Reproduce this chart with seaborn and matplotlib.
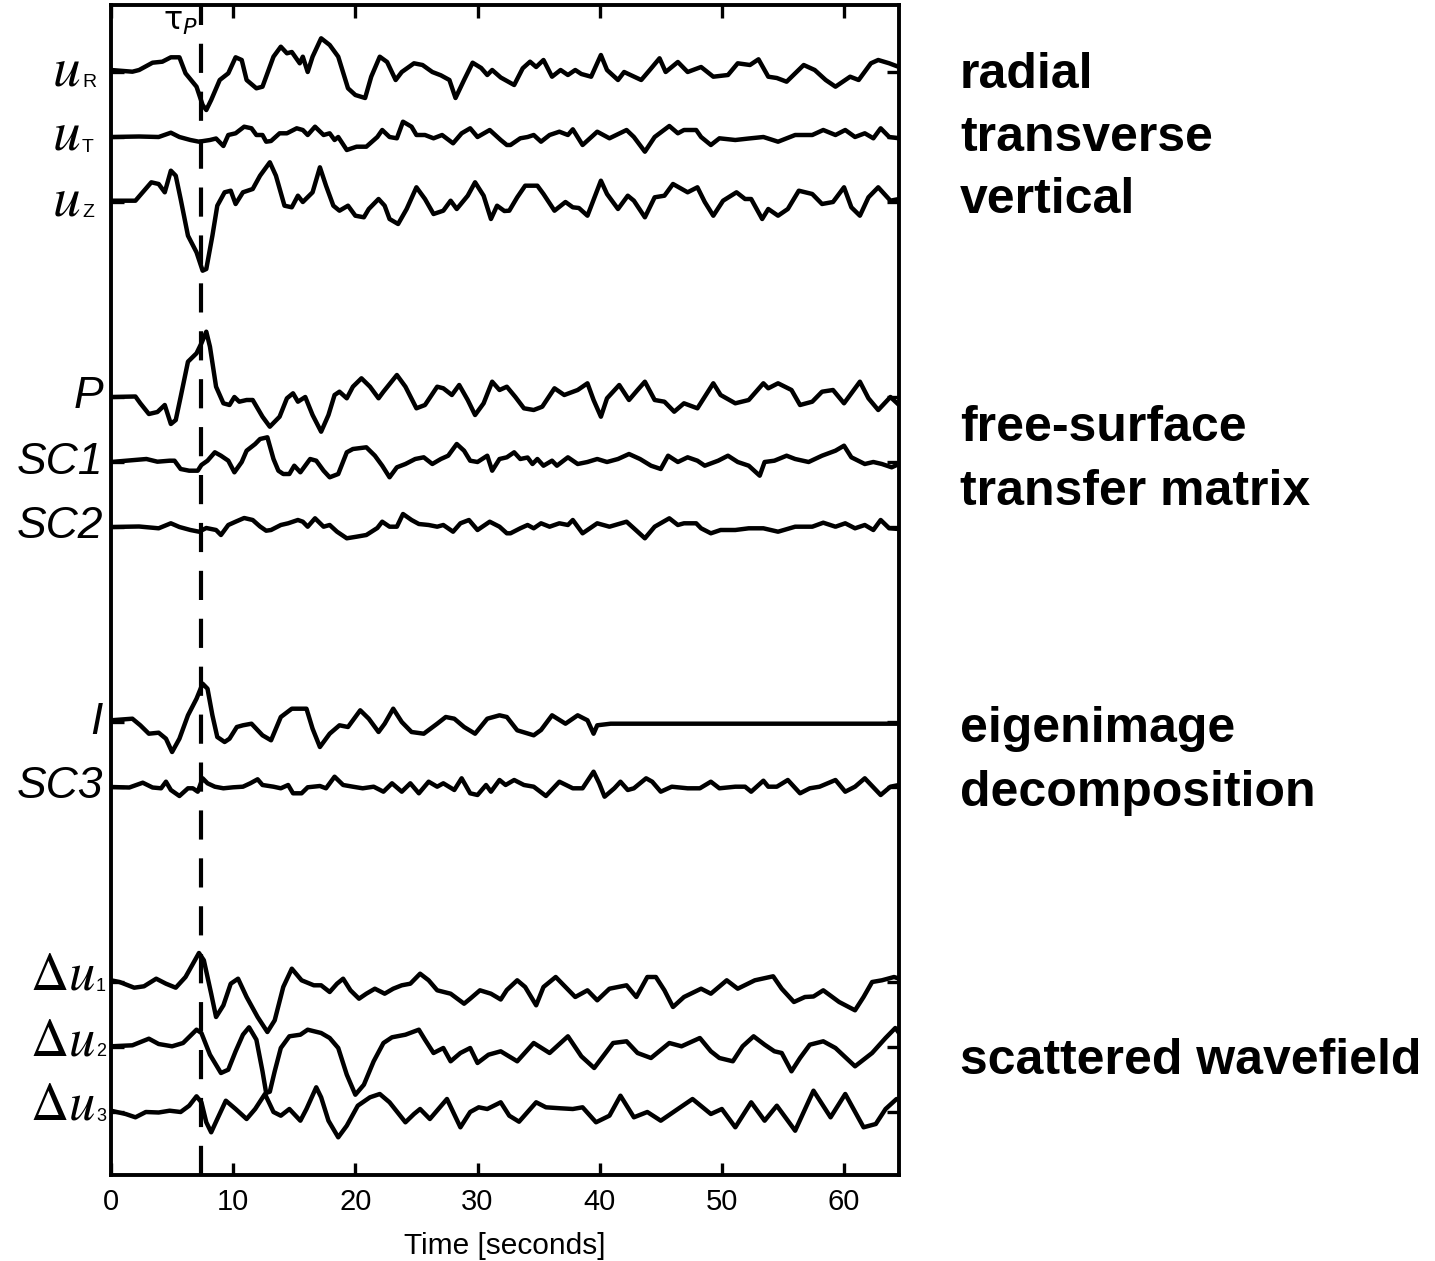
import numpy as np
import pandas as pd
import matplotlib
matplotlib.use("Agg")
import matplotlib.pyplot as plt
import seaborn as sns
from matplotlib import transforms

# traces: time [s] and deflection (pixels, up = positive)
uR_t = [0, 1.75, 2.3, 3.4, 4.2, 4.9, 5.6, 6.1, 7.0, 7.5, 7.8, 8.2, 8.9, 9.6, 10.2, 10.7, 11.1, 11.9, 12.4, 13.3,
        13.9, 14.4, 14.8, 15.45, 15.7, 16.1, 16.5, 17.2, 17.9, 18.6, 19.4, 20.0, 20.8, 21.3, 22.0, 22.6, 23.3, 23.8,
        24.8, 25.5, 26.3, 27.0, 27.7, 28.2, 28.9, 29.6, 30.3, 30.8, 31.2, 31.9, 33.0, 33.7, 34.3, 34.8, 35.4, 36.1,
        36.8, 37.4, 38.0, 38.5, 39.3, 40.1, 40.6, 41.5, 42.0, 43.4, 44.1, 44.9, 45.4, 46.4, 47.2, 48.3, 49.3, 50.5,
        51.3, 52.3, 53.0, 53.8, 54.5, 55.3, 56.7, 57.6, 58.5, 59.3, 60.5, 61.2, 62.2, 62.8, 63.7, 64.5]
uR_v = [2, 0.3, 2, 9.3, 10.3, 14.7, 14.7, -1.3, -14.7, -33, -38, -28, -8, -1.3, 14.7, 12, -8, -16.3, -14.7, 15.3,
        25.3, 18.7, 20, 8.7, 15.3, 0, 15.3, 33.7, 27, 15.3, -16.3, -23, -26, -4.7, 15.3, 10, -8, 0,
        8.7, 7, 0, -3.3, -8, -26, -8, 9.3, 4, -3, 2, -5.5, -13, 3.7, 10.3, 5, 12, -4.7,
        2, -3, 2, -2, -4.7, 17, 2, -8, 0, -8, 2, 13.7, 0, 10, 0, 5, -4.7, -3,
        8.7, 7, 12.7, -4.7, -6, -9.7, 7, 2, -8, -14.7, -4.7, -8, 8.7, 12, 8.7, 5]

uT_t = [0, 2.3, 3.9, 4.9, 5.6, 6.5, 7.2, 8.1, 8.6, 9.2, 9.6, 10.2, 10.9, 11.5, 11.9, 12.4, 12.7, 13.1, 13.8, 14.4,
        15.2, 15.7, 16.1, 16.7, 17.4, 17.9, 18.3, 18.6, 19.3, 20.1, 20.9, 21.8, 22.2, 22.8, 23.4, 23.9, 24.6, 25.0,
        25.7, 26.4, 27.1, 28.0, 28.7, 29.4, 30.0, 31.0, 31.9, 32.4, 32.7, 33.5, 34.1, 34.6, 35.2, 35.9, 36.7, 37.4,
        37.8, 38.6, 39.8, 40.8, 42.2, 42.8, 43.7, 44.5, 45.7, 46.4, 46.9, 47.9, 48.3, 49.1, 49.8, 51.1, 52.2, 53.4,
        54.6, 56.0, 57.4, 58.3, 59.3, 60.1, 60.9, 61.7, 62.4, 63.0, 63.7, 64.5]
uT_v = [0, 0.5, 0, 4.3, 0, -3, -4.7, -3, -1.5, -9, 2, 3.7, 10.3, 8.7, 2, 2, -4.7, -4, 3.7, 3.7,
        8.7, 7, 2, 10.3, 2, 3.7, -3, 0, -13, -9.7, -9.7, 0, 7, 0, -1.3, 15.3, 10.3, 2,
        2, -1.3, 2, -6.3, 3.7, 8.7, 0, 7, -3, -8, -8, -1.3, 0, 2, -4.7, 2, 5.3, 2,
        7.7, -8, 5.3, -1.3, 7, 0, -14.7, 0, 11, 3.7, 7, 7, 0, -8, -1.3, -3, -1.5, 0,
        -4.7, 2, 2, 7, 2, 7, 0, 3.7, -1.3, 8.7, 0, -1.3]

uZ_t = [0, 2.0, 3.3, 3.9, 4.4, 4.9, 5.3, 5.7, 6.3, 7.0, 7.5, 7.8, 8.3, 8.7, 9.3, 9.8, 10.2, 10.8, 11.6, 12.2,
        13.0, 13.5, 14.2, 14.8, 15.3, 15.7, 16.5, 17.1, 17.6, 18.2, 18.7, 19.4, 20.0, 20.7, 21.1, 21.9, 22.4, 22.8,
        23.5, 24.2, 25.0, 25.7, 26.4, 27.2, 27.8, 28.3, 29.2, 29.8, 30.5, 31.1, 31.6, 32.2, 32.6, 33.25, 33.9, 34.9,
        35.4, 36.3, 37.2, 37.8, 38.3, 39.0, 40.1, 40.6, 41.5, 42.3, 42.8, 43.7, 44.5, 45.3, 46.0, 47.2, 48.0, 48.6,
        49.3, 50.1, 51.2, 51.9, 52.4, 53.3, 53.8, 54.6, 55.4, 56.3, 57.4, 58.2, 59.1, 60.0, 60.6, 61.3, 62.0, 62.8,
        63.8, 64.5]
uZ_v = [1.3, 1.3, 19.7, 18, 9.7, 31.3, 26.3, 3, -33.7, -50.3, -68.7, -67, -33.7, -3.7, 9.7, 11.3, -2, 9.7, 13, 26.3,
        39.7, 26.3, -3.7, -5.3, 6.3, 0, 9.7, 34.7, 16.3, -3.7, -8.7, -3.7, -13.7, -15.3, -7, 3, -3.7, -17,
        -22, -7, 14.7, 3, -12, -8.7, 1.3, -7, 6.3, 19.7, 6.3, -17, -3.7, -9, -8.7, 4.7, 16.3, 16.3,
        8, -8.7, 0, -5.3, -6, -13.7, 21.3, 8, -7, 6.3, 1.3, -15.3, 4.7, 6.3, 18, 9.7, 14.7, 0,
        -13.7, 1.3, 9.7, 3, 3, -17, -7, -13.7, -7, 11.3, 8, -2, 0, 14.7, -5.3, -13.7, 4.7, 14.7,
        1.3, 3]

P_t = [0, 2.0, 2.4, 3.1, 3.8, 4.4, 4.9, 5.3, 5.7, 6.3, 7.0, 7.4, 7.8, 8.1, 8.6, 9.2, 9.7, 10.1, 10.5, 11.1,
       11.6, 12.4, 13.0, 13.8, 14.4, 14.9, 15.3, 15.9, 16.5, 17.2, 17.8, 18.3, 18.7, 19.3, 19.8, 20.5, 21.2, 21.9,
       22.3, 23.4, 24.1, 25.0, 25.7, 26.7, 27.2, 27.9, 28.5, 29.2, 29.8, 30.5, 31.2, 31.8, 32.4, 33.1, 33.8, 34.6,
       35.3, 36.3, 37.1, 38.2, 39.0, 39.5, 40.1, 40.6, 41.6, 42.4, 43.1, 43.7, 44.5, 45.3, 46.1, 46.9, 48.0, 49.3,
       49.9, 51.1, 52.2, 53.4, 53.8, 54.6, 55.7, 56.4, 57.4, 58.2, 59.1, 60.0, 61.3, 62.0, 62.8, 63.8, 64.5]
P_v = [0, 0.5, -6.3, -17, -15, -8, -27, -23, 0, 35.3, 43.7, 53.7, 65.3, 50.3, 10.3, -6.3, -8, 0, -4.7, -3,
       -3, -19.7, -29.7, -19.7, -1.3, 3.7, -4.7, 0, -18, -34.7, -18, 2, 5.3, -1.3, 10.3, 18.7, 10.3, -1.3,
       5.3, 22, 10.3, -11.3, -8, 10.3, 8.7, 2, 12, -3, -18, -6.3, 15.3, 7, 10.3, 0, -11.3, -13,
       -9.7, 8.7, 2, 7, 13.7, -3, -19.7, -1.3, 12, -3, 7, 15.3, -3, -4.7, -14.7, -6.3, -11.3, 13.7,
       2, -6.3, -3, 13.7, 8.7, 13.7, 7, -8, -4.7, 5.3, 7, -6.3, 15.3, -1.3, -13, 0, -8]

SC1_t = [0, 2.9, 3.8, 4.8, 5.2, 5.7, 6.4, 7.1, 7.4, 7.9, 8.5, 9.0, 9.6, 10.1, 10.7, 11.1, 11.8, 12.2, 12.8, 13.3,
         13.7, 14.1, 14.6, 15.0, 15.5, 16.3, 16.8, 17.4, 17.9, 18.6, 19.3, 19.8, 20.9, 21.6, 22.2, 22.8, 23.4, 24.1,
         24.9, 25.6, 26.3, 27.0, 27.6, 28.3, 28.9, 29.4, 30.0, 30.8, 31.2, 31.8, 32.4, 33.0, 33.5, 34.1, 34.5, 34.9,
         35.4, 36.1, 36.5, 37.4, 38.2, 39.0, 39.8, 40.6, 41.5, 42.4, 43.3, 44.2, 45.0, 45.6, 46.4, 47.2, 48.0, 48.6,
         49.7, 50.5, 51.3, 52.2, 53.1, 53.5, 54.3, 55.3, 56.0, 57.1, 58.2, 59.3, 60.0, 60.6, 61.7, 62.4, 63.1, 63.9,
         64.5]
SC1_v = [0, 3, 0.3, 1.3, 1.3, -7, -8.7, -8.7, -3, 1.3, 9.7, 6.3, 1.3, -10.3, 0, 11.3, 18, 23, 24.7, 3,
         -8.7, -12, -12, -3.7, -10.3, 3, 1.3, -8.7, -15.3, -12, 9.7, 13, 14.7, 6.3, -3.7, -15.3, -5.3, -2,
         3, 4.7, -2, 3, 6.3, 18, 11.3, 1.3, 0, 6.3, -8.7, 3, 4.7, 9.7, 3, 4.5, -2, 3,
         -3.7, 1.3, -3.7, 4.7, -2, 0, 3, 0, 3, 8, 3, -3.7, -7, 6.3, 0, 4.7, 1.3, -3.7,
         1.3, 6.3, 0, -3.7, -13.7, 0, 1.3, 6.3, 3, 0, 6.3, 11.3, 16.3, 4.7, -2, 0, -2, -5.3,
         -2]

SC2_t = [0, 2.3, 3.9, 4.9, 5.6, 6.5, 7.2, 7.8, 8.6, 9.0, 9.6, 10.2, 10.9, 11.6, 12.2, 12.7, 13.1, 13.9, 14.5, 15.3,
         15.7, 16.1, 16.7, 17.4, 17.9, 18.5, 19.3, 20.1, 20.9, 21.8, 22.2, 22.8, 23.4, 23.9, 24.6, 25.2, 26.0, 26.7,
         27.2, 28.0, 28.6, 29.3, 30.0, 31.0, 31.8, 32.4, 32.7, 33.5, 34.1, 34.6, 35.2, 35.9, 36.7, 37.4, 37.8, 38.6,
         39.8, 40.8, 42.2, 42.8, 43.7, 44.5, 45.7, 46.4, 46.9, 47.9, 48.3, 49.1, 49.9, 51.1, 52.2, 53.4, 54.6, 56.0,
         57.4, 58.3, 59.3, 60.1, 60.9, 61.7, 62.4, 63.0, 63.7, 64.5]
SC2_v = [0, 0.5, -1.3, 3.7, 0, -3, -4.7, -1, -3, -8, 2, 5.3, 9, 7, 0.5, -3.7, -3, 2, 3.7, 7,
         5.3, 0.3, 8.7, 0.3, 2, -4.7, -11.3, -9.7, -8, -1, 5.3, 0.3, 0.3, 13, 7, 3, 2, 0.3,
         2, -4.7, 3.7, 7, -3, 5.3, 0.3, -6.3, -6.3, -1.3, 2, -1.3, 3.7, 0.3, 3.7, 2, 7, -6.3,
         3.7, 0.3, 5.3, -1.3, -11.3, 0.3, 8.7, 2, 3.7, 3.7, -1.3, -6.3, -3, -3, -1.3, -1.3, -4.7, 0.3,
         0.3, 4.3, 0.3, 3.7, -1.3, 2, -3, 7, -1.3, -2]

I_t = [0, 1.75, 2.4, 3.1, 3.9, 4.5, 5.0, 5.6, 6.3, 7.0, 7.5, 7.9, 8.3, 8.7, 9.3, 9.7, 10.3, 10.8, 11.5, 12.4,
       13.1, 13.9, 14.8, 16.0, 16.5, 17.1, 17.9, 18.7, 19.4, 20.4, 21.1, 21.9, 22.4, 23.1, 23.8, 24.6, 25.6, 26.7,
       27.4, 28.1, 28.9, 29.8, 30.8, 31.8, 32.4, 33.25, 34.6, 35.2, 36.1, 37.2, 38.2, 39.0, 39.5, 39.8, 40.9, 42.8,
       64.5]
I_v = [1.7, 3.3, -3.3, -11.7, -10.7, -16.7, -30, -16.7, 6.7, 23.3, 38.3, 33.3, 6.7, -15, -20, -16.7, -5, -3.3, -1.7, -13.3,
       -18.3, 5, 13.3, 13.3, -6.7, -25, -11.7, -3.3, -5, 11.7, 3.3, -10, -1.7, 13.3, 0, -10, -11.7, -1.7,
       5, 3.3, -5, -11.7, 3.3, 6.7, 5, -8.3, -13.3, -8, 6.7, -1.7, 6.7, 1.7, -11.7, -3.3, -1.7, -1.7,
       -1.7]

SC3_t = [0, 1.5, 2.6, 3.4, 4.1, 4.5, 4.9, 5.6, 6.3, 6.7, 7.1, 7.5, 7.9, 8.5, 9.2, 10.0, 10.8, 11.4, 12.0, 12.4,
         13.3, 13.9, 14.5, 14.9, 15.6, 16.1, 17.1, 17.6, 18.3, 19.0, 19.8, 20.6, 21.5, 22.3, 23.0, 23.8, 24.5, 25.2,
         26.0, 26.7, 27.2, 28.1, 28.7, 29.4, 30.0, 30.7, 31.1, 31.8, 32.3, 33.0, 33.8, 34.6, 35.6, 36.7, 37.8, 38.6,
         39.5, 39.96, 40.4, 41.2, 41.7, 42.3, 42.8, 43.8, 44.3, 45.0, 45.9, 47.2, 48.2, 49.1, 49.8, 51.1, 51.9, 52.4,
         53.4, 53.8, 54.5, 55.4, 56.4, 57.2, 58.0, 59.3, 60.1, 60.9, 61.7, 63.0, 63.8, 64.5]
SC3_v = [0, -0.5, 4.3, -0.5, -1.3, 5.3, -3, -9, -1.3, -1.3, -4.7, 8.7, 3.7, 0.3, -1.3, -0.3, 0.3, 3.7, 7.7, 2,
         0.3, -1.3, 2, -6.3, -6.3, -0.3, 1, -1.3, 10.3, 2, 0.3, -1.3, 0.3, -4.7, 3.7, -4.7, 3.7, -6.3,
         5.3, 0.3, 3.7, -3, 8.7, -6.3, -8, 2, -4.7, 7, 2, 7, 2, 0.3, -9, 5.3, -1.3, -1.3,
         15.3, 3.7, -9.7, -1.3, 5.3, -3, -1.3, 8.7, 5.3, -4.7, 0.3, -1.3, -1.3, 5.3, -1.3, 0.3, 0.3, -4.7,
         6.3, 0.3, 0.3, 7, -6.3, -1.3, 0.3, 7, -4.7, 0.3, 8.7, -8, 0.3, 2]

du1_t = [0, 0.7, 1.9, 2.7, 3.7, 4.5, 5.3, 6.1, 7.2, 7.6, 8.2, 8.6, 9.2, 9.8, 10.4, 11.1, 12.0, 12.8, 13.4, 14.1,
         14.8, 15.6, 16.6, 17.2, 17.9, 18.5, 19.0, 19.6, 20.3, 20.9, 21.6, 22.4, 23.1, 23.8, 24.5, 25.3, 26.0, 26.7,
         27.8, 28.9, 29.4, 30.2, 31.1, 31.9, 32.4, 33.25, 33.9, 34.8, 35.4, 36.4, 37.2, 38.0, 39.0, 39.8, 40.8, 42.2,
         43.0, 43.9, 44.6, 45.3, 46.0, 46.9, 48.3, 49.1, 50.4, 51.3, 52.7, 54.2, 54.9, 55.9, 56.8, 57.5, 58.3, 59.6,
         60.9, 61.6, 62.3, 63.1, 64.1, 64.5]
du1_v = [1.7, 0, -5.7, -4.3, 3.3, -1.7, -5.7, 5, 29, 21.7, -11.7, -35, -23.3, -1.7, 3.3, -15, -35, -50, -38.3, -5,
         13.3, 1.7, -3.3, -3.3, -10, -1.7, 3.3, -8.3, -16.7, -11.7, -6.7, -11.7, -6.7, -3.3, -1.7, 8.3, 1.7, -8.3,
         -11.7, -21.7, -16.7, -8.3, -11.7, -17.5, -8, 1.7, -5, -23.3, -5, 5, -5, -15, -8.3, -18.3, -6.7, -3.3,
         -15, 5, 5, -8.3, -25, -15, -6.7, -11.7, 1.7, -6.7, 1.7, 5.7, -6.7, -20, -15, -14.5, -8.3, -20,
         -28.3, -15, 0, 1.7, 5, 3.3]

du2_t = [0, 1.75, 3.1, 3.9, 5.0, 5.9, 7.0, 7.4, 8.1, 9.0, 9.6, 10.2, 10.8, 11.3, 11.9, 12.4, 12.7, 13.0, 13.4, 13.9,
         14.6, 15.5, 16.1, 17.2, 17.9, 18.6, 19.3, 20.0, 20.7, 21.5, 22.3, 23.0, 24.1, 25.2, 25.7, 26.4, 27.2, 27.8,
         28.6, 29.4, 30.0, 30.9, 31.9, 33.25, 34.6, 35.9, 37.4, 38.5, 39.55, 41.1, 42.2, 43.1, 44.2, 45.7, 46.7, 48.2,
         49.1, 49.8, 50.9, 51.7, 52.6, 53.5, 54.3, 54.9, 55.7, 56.4, 57.2, 58.3, 59.3, 60.9, 62.3, 63.4, 64.2, 64.5]
du2_v = [0.7, 1.7, 8.3, 3, 0.7, 4, 17.3, 14, -7.7, -26, -22.7, -4.3, 12.3, 19.7, 7.3, -24.3, -46, -44.7, -24.3, -1,
         10.7, 12.3, 17.3, 14, 9, -1, -27.7, -47.7, -37.7, -14.3, 4, 9.7, 12.3, 17.3, 7.3, -6, -1, -14.3,
         -6, -1, -16, -7.7, -4.3, -14.3, 4, -6, 10.7, -9.3, -21, 4, 5.7, -6, -11, 4, 0.7, 9,
         -4.3, -11, -14.3, 0.7, 10.7, 2.3, -4.3, -6, -24.3, -11, 2.3, 5.7, -1, -19.3, -6, 9, 19, 14]

du3_t = [0, 1.2, 2.0, 2.85, 3.9, 4.8, 5.7, 6.4, 7.0, 7.4, 7.8, 8.2, 8.7, 9.4, 10.2, 11.1, 11.8, 12.6, 13.3, 13.9,
         14.6, 15.5, 16.0, 16.8, 17.2, 17.8, 18.6, 19.3, 20.2, 21.2, 22.0, 22.8, 24.1, 24.8, 25.3, 26.1, 27.5, 28.6,
         29.4, 30.1, 30.8, 31.9, 32.6, 33.4, 34.8, 35.6, 36.8, 37.8, 38.6, 39.7, 40.8, 41.7, 42.8, 43.9, 45.0, 46.4,
         47.6, 49.1, 50.0, 51.1, 52.4, 53.5, 54.5, 56.0, 57.5, 58.9, 60.1, 61.6, 62.6, 63.4, 64.3]
du3_v = [1.3, -2, -5.3, 0, -0.5, 1.3, 0, 6.3, 15.7, 9.7, -10.3, -20.3, -7, 11.3, 3, -7, 3, 18, 0, -3.7,
         3, -8.7, 3, 24.7, 14.7, -8.7, -25.3, -13.7, 6.3, 14.7, 18, 9.7, -10.3, -2, 3, -7, 13, -15.3,
         0, 4.7, 3, 9.7, -3.7, -9.7, 9.7, 4.7, 3.7, 3, 4.7, -10.3, -3.7, 16.3, -5.3, 0, -8.7, 3,
         13, -2, 3, -15.3, 9.7, -8.7, 6.3, -18.7, 21.3, -5.3, 18, -15.3, -12, 3, 13]

trace_names = ["uR", "uT", "uZ", "P", "SC1", "SC2", "I", "SC3", "du1", "du2", "du3"]
trace_slot = [1, 2, 3, 6, 7, 8, 11, 12, 15, 16, 17]   # baseline rows, counted from the top
trace_t = [uR_t, uT_t, uZ_t, P_t, SC1_t, SC2_t, I_t, SC3_t, du1_t, du2_t, du3_t]
trace_v = [uR_v, uT_v, uZ_v, P_v, SC1_v, SC2_v, I_v, SC3_v, du1_v, du2_v, du3_v]

group_labels = ["radial", "transverse", "vertical", "free-surface", "transfer matrix",
                "eigenimage", "decomposition", "scattered wavefield"]
group_baseline_px = [88, 151, 213, 441, 505, 742, 806, 1074]

tau_p = 7.37
row_px = 65.0     # pixel spacing between neighbouring rows

rows = []
for name, slot, t, v in zip(trace_names, trace_slot, trace_t, trace_v):
    for ti, vi in zip(t, v):
        rows.append({"trace": name, "time": ti, "y": -slot + vi / row_px})
df = pd.DataFrame(rows)

sns.set_theme(style="ticks")
plt.rcParams["font.family"] = ["Liberation Sans", "DejaVu Sans"]
plt.rcParams["text.color"] = "black"
plt.rcParams["axes.labelcolor"] = "black"
plt.rcParams["xtick.color"] = "black"
plt.rcParams["ytick.color"] = "black"

W, H = 1435, 1261
fig = plt.figure(figsize=(W / 100, H / 100), dpi=100)
ax = fig.add_axes([111 / W, 1 - 1175 / H, (899 - 111) / W, (1175 - 5) / H])

sns.lineplot(data=df, x="time", y="y", units="trace", estimator=None, color="black",
             linewidth=3.2, ax=ax, legend=False)
ax.axvline(tau_p, color="black", linewidth=3.0, linestyle=(0, (7, 4.5)))

ax.set_xlim(0, 64.5)
ax.set_ylim(-(1175 - 7) / row_px, -(5 - 7) / row_px)
ax.set_xticks(range(0, 61, 10))
ax.set_yticks([-s for s in trace_slot])
ax.set_yticklabels([])
for s in ax.spines.values():
    s.set_linewidth(2.8)
    s.set_color("black")
ax.tick_params(axis="both", direction="in", length=9, width=2.4, color="black",
               labelcolor="black", top=True, right=True)
ax.tick_params(axis="x", labelsize=21, pad=9)
ax.set_xlabel("Time [seconds]", fontsize=21.5, labelpad=12, color="black")
ax.set_ylabel("")

# left trace labels
lab = transforms.blended_transform_factory(ax.transAxes, ax.transData)


def xf(px):
    return (px - 111) / 788.0


def yd(slot, dpx):
    return -slot - dpx / row_px


for slot, sub in [(1, "R"), (2, "T"), (3, "Z")]:
    ax.text(xf(80), yd(slot, 13), r"$u$", transform=lab, ha="right", va="baseline",
            fontsize=40, math_fontfamily="stix", color="black", clip_on=False)
    ax.text(xf(82), yd(slot, 15), sub, transform=lab, ha="left", va="baseline",
            fontsize=14, color="black", clip_on=False)

for name, slot in [("P", 6), ("SC1", 7), ("SC2", 8), ("I", 11), ("SC3", 12)]:
    ax.text(xf(103), yd(slot, 0), name, transform=lab, ha="right", va="center",
            fontsize=32, fontstyle="italic", color="black", clip_on=False)

for k, slot in zip([1, 2, 3], [15, 16, 17]):
    ax.text(xf(95), yd(slot, 8), r"$\Delta u$", transform=lab, ha="right", va="baseline",
            fontsize=38, math_fontfamily="stix", color="black", clip_on=False)
    ax.text(xf(96), yd(slot, 9), str(k), transform=lab, ha="left", va="baseline",
            fontsize=13, color="black", clip_on=False)

ax.text(7.1, 0.0, r"$\mathrm{\tau}_P$", ha="right", va="top", fontsize=23,
        color="black", clip_on=False)

for txt, ypx in zip(group_labels, group_baseline_px):
    fig.text(960 / W, 1 - ypx / H, txt, fontsize=36, fontweight="bold", color="black",
             ha="left", va="baseline")

fig.savefig("out.png", dpi=100)
